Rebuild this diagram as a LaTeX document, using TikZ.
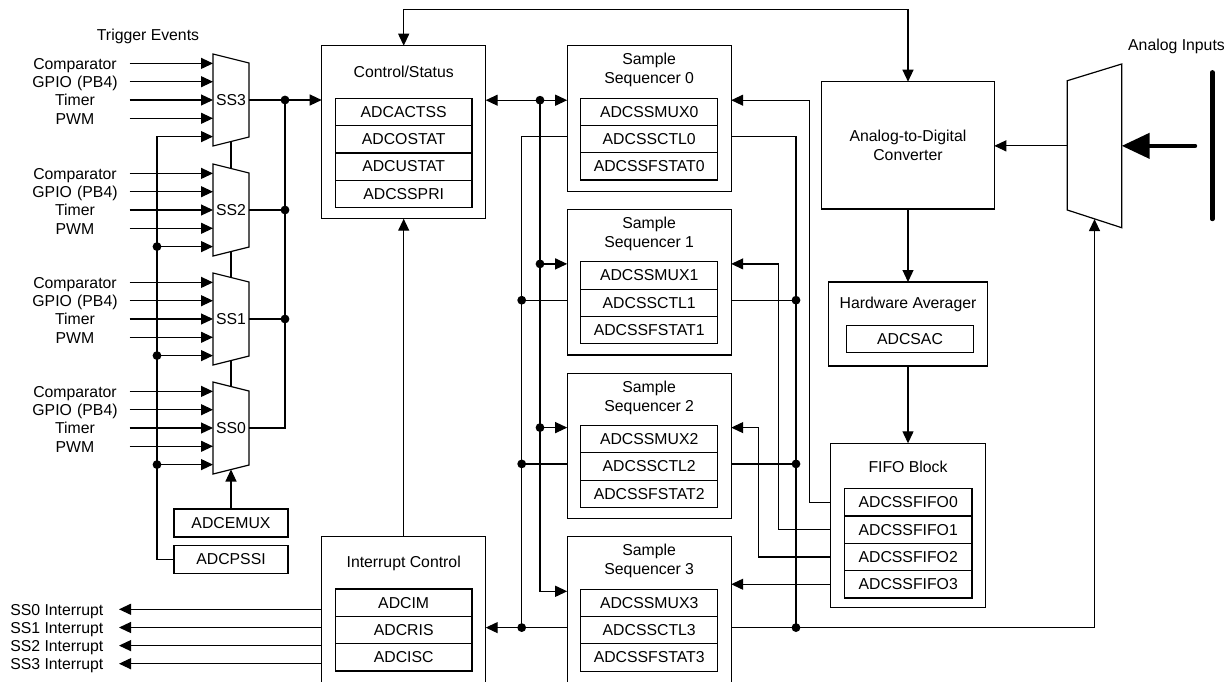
\documentclass[tikz,border=0pt]{standalone}
\usepackage{fontspec}
\setmainfont{Liberation Sans}
\usepackage{tikz}
\usetikzlibrary{arrows.meta, positioning, calc}
\newcommand{\dfont}{\fontsize{7.9pt}{9.5pt}\selectfont}

\begin{document}
\begin{tikzpicture}[
  x=0.5pt, y=-0.5pt,
  line width=0.6pt,
  every node/.style = {font=\dfont},
  blk/.style    = {draw, minimum width=82pt, inner sep=0pt, outer sep=0pt},
  reg/.style    = {draw, minimum width=68.35pt, minimum height=13.65pt,
                   inner sep=0pt, outer sep=0pt},
  freg/.style   = {reg, minimum width=63.85pt},
  ttl/.style    = {align=center, inner sep=0pt},
  mux/.style    = {minimum width=18pt, minimum height=46pt, inner sep=0pt, outer sep=0pt},
  trig/.style   = {text width=45pt, align=center, inner xsep=4.5pt, inner ysep=0pt,
                   text height=5.7pt, text depth=0pt},
  intlab/.style = {anchor=east, inner xsep=7.5pt, inner ysep=0pt,
                   text height=5.7pt, text depth=0pt},
  arr/.style    = {-{Triangle[length=6pt,width=5.5pt]}},
  dblarr/.style = {{Triangle[length=6pt,width=5.5pt]}-{Triangle[length=6pt,width=5.5pt]}},
  bigarr/.style = {-{Triangle[length=14pt,width=12.5pt]}, line width=2.2pt, line cap=round},
]
\clip (0,0) rectangle (1232,681);

% trigger muxes
\node (trgtitle) at (148,36) {Trigger Events};
\foreach \n/\cy in {3/100,2/210,1/319,0/428} {
  \node[mux] (ss\n) at (231,\cy) {SS\n};
  \draw (ss\n.north west) -- ([yshift=-4.5pt]ss\n.north east)
        -- ([yshift=4.5pt]ss\n.south east) -- (ss\n.south west) -- cycle;
  \node[trig] (cmp\n)  at (75,\cy-36.6) {Comparator};
  \node[trig] (gpio\n) at (75,\cy-18.3) {GPIO (PB4)};
  \node[trig] (tmr\n)  at (75,\cy)      {Timer};
  \node[trig] (pwm\n)  at (75,\cy+18.3) {PWM};
  \coordinate (lb\n) at (157,\cy+36.6);
  \draw[arr] (cmp\n.east)  -- (cmp\n.east -| ss\n.west);
  \draw[arr] (gpio\n.east) -- (gpio\n.east -| ss\n.west);
  \draw[arr] (tmr\n.east)  -- (tmr\n.east -| ss\n.west);
  \draw[arr] (pwm\n.east)  -- (pwm\n.east -| ss\n.west);
}
\draw ([yshift=2.25pt]ss3.south) -- ([yshift=-2.25pt]ss2.north);
\draw ([yshift=2.25pt]ss2.south) -- ([yshift=-2.25pt]ss1.north);
\draw ([yshift=2.25pt]ss1.south) -- ([yshift=-2.25pt]ss0.north);

\node[draw, minimum width=57pt, minimum height=14pt, inner sep=0pt, outer sep=0pt] (emux) at (231,523) {ADCEMUX};
\node[draw, minimum width=57pt, minimum height=14pt, inner sep=0pt, outer sep=0pt] (pssi) at (231,559.2) {ADCPSSI};
\draw[arr] (emux.north) -- ([yshift=2.25pt]ss0.south);
\draw[arr] (pssi.west) -| (lb3) -- (lb3 -| ss3.west);
\foreach \n in {2,1,0} {
  \fill (lb\n) circle (2.2pt);
  \draw[arr] (lb\n) -- (lb\n -| ss\n.west);
}

% control / status
\node[blk, minimum height=86.5pt] (cs) at (403.7,132.2) {};
\node[ttl] (cstitle) at (403.7,72) {Control/Status};
\node[reg, anchor=north] (actss) at (403.7,98.3) {ADCACTSS};
\node[reg, below=0pt of actss] (ostat) {ADCOSTAT};
\node[reg, below=0pt of ostat] (ustat) {ADCUSTAT};
\node[reg, below=0pt of ustat] (sspri) {ADCSSPRI};

\coordinate (ob) at (285,100);
\draw[arr] (ss3.east) -- (ss3.east -| cs.west);
\draw (ss0.east) -| (ob);
\draw (ss2.east) -- (ss2.east -| ob);
\draw (ss1.east) -- (ss1.east -| ob);
\fill (ob) circle (2.2pt);
\fill (ss2.east -| ob) circle (2.2pt);
\fill (ss1.east -| ob) circle (2.2pt);

% interrupt control
\node[blk, minimum height=72.75pt] (ic) at (403.7,609.45) {};
\node[ttl] (ictitle) at (403.7,563) {Interrupt Control};
\node[reg, anchor=north] (im) at (403.7,589) {ADCIM};
\node[reg, below=0pt of im] (ris) {ADCRIS};
\node[reg, below=0pt of ris] (isc) {ADCISC};
\draw[arr] (ic.north) -- (ic.north |- cs.south);

\node[intlab] (intr0) at (119,609.3) {SS0 Interrupt};
\node[intlab] (intr1) at (119,627.5) {SS1 Interrupt};
\node[intlab] (intr2) at (119,645.6) {SS2 Interrupt};
\node[intlab] (intr3) at (119,663.7) {SS3 Interrupt};
\draw[arr] (intr0 -| ic.west) -- (intr0.east);
\draw[arr] (intr1 -| ic.west) -- (intr1.east);
\draw[arr] (intr2 -| ic.west) -- (intr2.east);
\draw[arr] (intr3 -| ic.west) -- (intr3.east);

% sample sequencers
\foreach \k in {0,...,3} {
  \pgfmathsetmacro\T{45.7+163.7*\k}
  \node[blk, minimum height=72.75pt] (seq\k) at (649.2,\T+72.75) {};
  \node[ttl] (seqt\k) at (649.2,\T+24.5) {Sample\\Sequencer \k};
  \node[reg, anchor=north] (ssmux\k) at (649.2,\T+52.4) {ADCSSMUX\k};
  \node[reg, below=0pt of ssmux\k] (ssctl\k) {ADCSSCTL\k};
  \node[reg, below=0pt of ssctl\k] (ssfst\k) {ADCSSFSTAT\k};
  \coordinate (t\k) at (540,\T+54.5);
  \coordinate (c\k) at (521.7,\T+90.8);
  \coordinate (d\k) at (796,\T+90.8);
}

\draw[dblarr] (t0 -| cs.east) -- (t0 -| seq0.west);
\draw[arr] (t0) |- (t3 -| seq3.west);
\draw[arr] (t1) -- (t1 -| seq1.west);
\draw[arr] (t2) -- (t2 -| seq2.west);
\fill (t0) circle (2.2pt);
\fill (t1) circle (2.2pt);
\fill (t2) circle (2.2pt);

\draw (c0 -| seq0.west) -| (c3);
\draw (c1) -- (c1 -| seq1.west);
\draw (c2) -- (c2 -| seq2.west);
\draw[arr] (c3 -| seq3.west) -- (c3 -| ic.east);
\fill (c1) circle (2.2pt);
\fill (c2) circle (2.2pt);
\fill (c3) circle (2.2pt);

% converter side
\node[blk, minimum width=86.3pt, minimum height=63.65pt, align=center] (adc) at (908,145.35) {Analog-to-Digital\\Converter};
\coordinate (topbus) at (650,9.3);
\draw[dblarr] (cs.north) |- (topbus) -| (adc.north);

\node[blk, minimum width=79.7pt, minimum height=42pt] (hwa) at (908,324) {};
\node[ttl] (hwatitle) at (908,304.3) {Hardware Averager};
\node[freg] (sac) at (910,338.9) {ADCSAC};

\node[blk, minimum width=77.3pt, minimum height=82pt] (fifo) at (908,525.3) {};
\node[ttl] (fifotitle) at (908,467.3) {FIFO Block};
\node[freg, anchor=north] (ff0) at (908.2,488.7) {ADCSSFIFO0};
\node[freg, below=0pt of ff0] (ff1) {ADCSSFIFO1};
\node[freg, below=0pt of ff1] (ff2) {ADCSSFIFO2};
\node[freg, below=0pt of ff2] (ff3) {ADCSSFIFO3};

\draw[arr] (adc.south) -- (hwa.north);
\draw[arr] (hwa.south) -- (fifo.north);

\coordinate (f0) at (809.3,100.2);
\coordinate (f1) at (778.7,263.9);
\coordinate (f2) at (758.7,427.6);
\draw[arr] (ff0 -| fifo.west) -| (f0) -- (f0 -| seq0.east);
\draw[arr] (ff1 -| fifo.west) -| (f1) -- (f1 -| seq1.east);
\draw[arr] (ff2 -| fifo.west) -| (f2) -- (f2 -| seq2.east);
\draw[arr] (ff3 -| fifo.west) -- (ff3 -| seq3.east);

% analog input mux
\node[minimum width=27.2pt, minimum height=81.85pt, inner sep=0pt, outer sep=0pt] (amux) at (1094.5,145.85) {};
\draw (amux.north east) -- (amux.south east) -- ([yshift=8.85pt]amux.south west)
      -- ([yshift=-8.35pt]amux.north west) -- cycle;
\coordinate (amb) at ([yshift=4.3pt]amux.south);
\draw[arr] (amux.west) -- (amux.west -| adc.east);

\draw (d0 -| seq0.east) -| (d3);
\draw (d1 -| seq1.east) -- (d1);
\draw (d2 -| seq2.east) -- (d2);
\draw[arr] (d3 -| seq3.east) -| (amb);
\fill (d1) circle (2.2pt);
\fill (d2) circle (2.2pt);
\fill (d3) circle (2.2pt);

\node (aintitle) at (1176.5,46.7) {Analog Inputs};
\coordinate (ain) at (1195,145.85);
\coordinate (bartop) at (1212.3,72.3);
\coordinate (barbot) at (1212.3,219);
\draw[line width=2.2pt, line cap=round] (bartop) -- (barbot);
\draw[bigarr] (ain) -- (amux.east);
\end{tikzpicture}
\end{document}
